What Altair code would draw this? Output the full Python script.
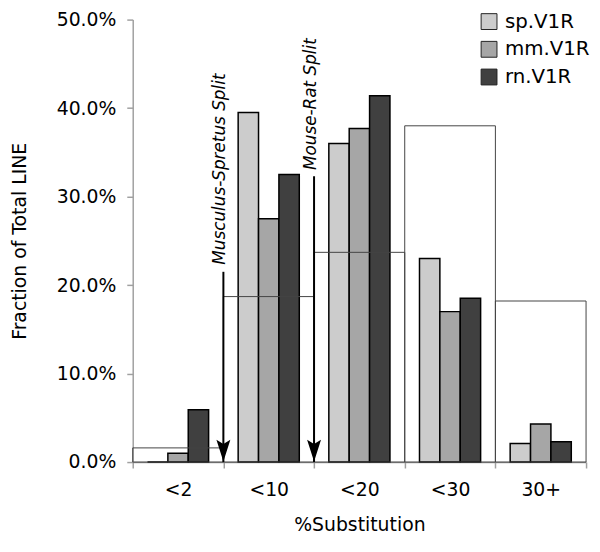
import altair as alt
import pandas as pd

categories = ["<2", "<10", "<20", "<30", "30+"]
series = ["sp.V1R", "mm.V1R", "rn.V1R"]
sp_values = [0.0, 39.5, 36.0, 23.0, 2.1]
mm_values = [1.0, 27.5, 37.7, 17.0, 4.3]
rn_values = [5.9, 32.5, 41.4, 18.5, 2.3]
total_line = [1.6, 18.7, 23.7, 38.0, 18.2]
series_colors = ["#cccccc", "#a6a6a6", "#404040"]

split_labels = ["Musculus-Spretus Split", "Mouse-Rat Split"]
split_at = ["<10", "<20"]          # split lies on the left edge of this category
split_text_y = [22.3, 33.0]
split_line_top = [21.5, 32.3]
split_head_y = [1.3, 1.3]

FONT = "DejaVu Sans"

rows = []
for s, vals in zip(series, [sp_values, mm_values, rn_values]):
    for c, v in zip(categories, vals):
        rows.append({"cat": c, "series": s, "value": v})
bars_df = pd.DataFrame(rows)
box_df = pd.DataFrame({"cat": categories, "value": total_line})
split_df = pd.DataFrame({
    "cat": split_at, "label": split_labels, "ty": split_text_y,
    "top": split_line_top, "head": split_head_y, "zero": [0, 0],
})

xscale = alt.Scale(domain=categories, paddingInner=0, paddingOuter=0)
yscale = alt.Scale(domain=[0, 50], nice=False)

bars = alt.Chart(bars_df).mark_bar(stroke="black", strokeWidth=1.5).encode(
    x=alt.X("cat:N", scale=xscale, sort=categories, title="%Substitution",
            axis=alt.Axis(tickBand="extent", labelAngle=0, labelFontSize=19,
                          labelFont=FONT, titleFont=FONT, titleFontSize=19,
                          titleFontWeight="normal", labelPadding=13, titlePadding=16,
                          domainColor="#a0a0a0", tickColor="#a0a0a0",
                          domainWidth=1.5, tickWidth=1.5, tickSize=6,
                          labelColor="black", titleColor="black")),
    xOffset=alt.XOffset("series:N", sort=series,
                        scale=alt.Scale(domain=series, paddingInner=0, paddingOuter=0.725)),
    y=alt.Y("value:Q", scale=yscale, title="Fraction of Total LINE",
            axis=alt.Axis(values=[0, 10, 20, 30, 40, 50], grid=False,
                          labelExpr="format(datum.value, '.1f') + '%'",
                          labelFontSize=19, labelFont=FONT, titleFont=FONT,
                          titleFontSize=19, titleFontWeight="normal",
                          labelPadding=11, titlePadding=27,
                          domainColor="#a0a0a0", tickColor="#a0a0a0",
                          domainWidth=1.5, tickWidth=1.5, tickSize=6,
                          labelColor="black", titleColor="black")),
    fill=alt.Fill("series:N", sort=series,
                  scale=alt.Scale(domain=series, range=series_colors),
                  legend=alt.Legend(title=None, orient="none", legendX=350, legendY=-8,
                                    symbolType="square", symbolSize=256,
                                    symbolStrokeColor="#222222", symbolStrokeWidth=1,
                                    labelFontSize=20, labelFont=FONT, labelColor="black",
                                    rowPadding=8, labelOffset=6, padding=0)),
)

boxes = alt.Chart(box_df).mark_bar(fillOpacity=0, stroke="#444444", strokeWidth=1).encode(
    x=alt.X("cat:N", scale=xscale, sort=categories),
    y=alt.Y("value:Q", scale=yscale),
)

rules = alt.Chart(split_df).mark_rule(color="black", strokeWidth=2).encode(
    x=alt.X("cat:N", scale=xscale, sort=categories, bandPosition=0),
    y=alt.Y("top:Q", scale=yscale),
    y2="zero:Q",
)

heads = alt.Chart(split_df).mark_point(
    shape="M0,1L-0.64,-1L0,-0.6L0.64,-1Z", size=484, filled=True,
    color="black", opacity=1).encode(
    x=alt.X("cat:N", scale=xscale, sort=categories, bandPosition=0),
    y=alt.Y("head:Q", scale=yscale),
)

texts = alt.Chart(split_df).mark_text(
    angle=270, align="left", baseline="middle", fontStyle="italic",
    font=FONT, fontSize=17, color="black", dy=-3).encode(
    x=alt.X("cat:N", scale=xscale, sort=categories, bandPosition=0),
    y=alt.Y("ty:Q", scale=yscale),
    text="label:N",
)

chart = alt.layer(bars, boxes, rules, heads, texts).properties(
    width=458, height=447,
    autosize=alt.AutoSizeParams(type="none"),
    padding={"left": 126, "top": 9, "right": 6, "bottom": 75},
).configure_view(strokeWidth=0)

chart.save("out.html", embed_options={"renderer": "svg", "actions": False})
